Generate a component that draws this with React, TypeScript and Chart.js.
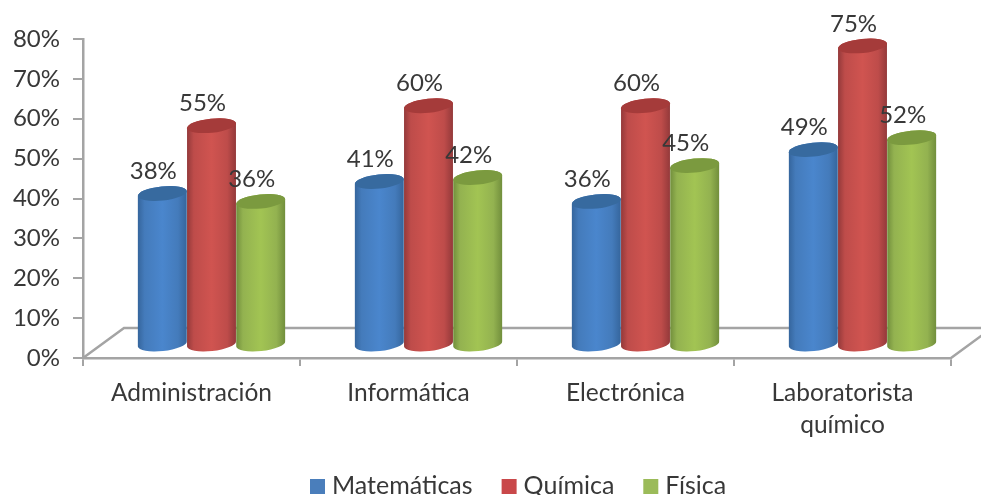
import React, { useEffect, useRef } from "react";
import { Chart, registerables } from "chart.js";

Chart.register(...registerables);

const categories = ["Administración", "Informática", "Electrónica", ["Laboratorista", "químico"]];
const matematicas = [38, 41, 36, 49];
const quimica = [55, 60, 60, 75];
const fisica = [36, 42, 45, 52];

const FONT = "Lato, 'Open Sans', sans-serif";
const TEXT = "#383838";
const AXIS = "#a4a4a4";

// edge, mid, highlight and cap tones of each cylinder
const tones = [
  { base: "#4a7ebb", edge: "#35659c", mid: "#447bbb", light: "#4a86cd", cap: "#376a9f" },
  { base: "#c9484a", edge: "#93393a", mid: "#be4c4a", light: "#d05450", cap: "#a53b3a" },
  { base: "#9bbb59", edge: "#718e3c", mid: "#93b250", light: "#a2c453", cap: "#7b9a3f" },
];

// perspective offset of the floor and of the cylinders standing on it
const DEPTH_X = 41;
const DEPTH_Y = 30;
const BAR_DX = 20;
const BAR_DY = 13;
const CAP_RY = 7;
const CAP_TILT = (-6 * Math.PI) / 180;

function drawCylinder(ctx: CanvasRenderingContext2D, el: any, tone: (typeof tones)[number]) {
  const cx = el.x + BAR_DX;
  const top = el.y - BAR_DY;
  const bottom = el.base - BAR_DY;
  const rx = el.width / 2;
  const ox = rx * Math.cos(CAP_TILT);
  const oy = rx * Math.sin(CAP_TILT);

  const fill = ctx.createLinearGradient(cx - rx, 0, cx + rx, 0);
  fill.addColorStop(0, tone.edge);
  fill.addColorStop(0.14, tone.mid);
  fill.addColorStop(0.5, tone.light);
  fill.addColorStop(0.82, tone.mid);
  fill.addColorStop(1, tone.edge);

  ctx.save();
  ctx.beginPath();
  ctx.moveTo(cx - ox, top - oy);
  ctx.lineTo(cx - ox, bottom - oy);
  ctx.ellipse(cx, bottom, rx, CAP_RY, CAP_TILT, Math.PI, 0, true);
  ctx.lineTo(cx + ox, top + oy);
  ctx.ellipse(cx, top, rx, CAP_RY, CAP_TILT, 0, Math.PI, true);
  ctx.closePath();
  ctx.fillStyle = fill;
  ctx.fill();

  ctx.beginPath();
  ctx.ellipse(cx, top, rx, CAP_RY, CAP_TILT, 0, Math.PI * 2);
  ctx.fillStyle = tone.cap;
  ctx.fill();
  ctx.restore();
}

// floor of the 3D frame, behind the cylinders
const floorPlugin = {
  id: "floor",
  beforeDatasetsDraw(chart: any) {
    const { ctx, chartArea: a } = chart;
    ctx.save();
    ctx.strokeStyle = AXIS;
    ctx.lineWidth = 2.5;
    ctx.beginPath();
    ctx.moveTo(a.left, a.bottom);
    ctx.lineTo(a.left + DEPTH_X, a.bottom - DEPTH_Y);
    ctx.lineTo(a.right + DEPTH_X, a.bottom - DEPTH_Y);
    ctx.lineTo(a.right, a.bottom);
    ctx.stroke();
    ctx.restore();
  },
};

// cylinders replace the flat bars; the geometry comes from each bar element
const cylinderPlugin = {
  id: "cylinders",
  beforeDatasetDraw(chart: any, args: any) {
    const meta = chart.getDatasetMeta(args.index);
    meta.data.forEach((el: any) => drawCylinder(chart.ctx, el, tones[args.index]));
    return false;
  },
};

const valueLabelPlugin = {
  id: "valueLabels",
  afterDatasetsDraw(chart: any) {
    const { ctx } = chart;
    ctx.save();
    ctx.font = `24px ${FONT}`;
    ctx.fillStyle = TEXT;
    ctx.textAlign = "center";
    ctx.textBaseline = "middle";
    chart.data.datasets.forEach((ds: any, i: number) => {
      chart.getDatasetMeta(i).data.forEach((el: any, j: number) => {
        ctx.fillText(`${ds.data[j]}%`, el.x + BAR_DX - 9, el.y - BAR_DY - 22);
      });
    });
    ctx.restore();
  },
};

const legendPlugin = {
  id: "keyRow",
  afterDraw(chart: any) {
    const { ctx } = chart;
    ctx.save();
    ctx.font = `25px ${FONT}`;
    ctx.textBaseline = "middle";
    let x = 310;
    const y = 486;
    chart.data.datasets.forEach((ds: any) => {
      ctx.fillStyle = ds.backgroundColor;
      ctx.fillRect(x, y - 7, 15, 15);
      ctx.fillStyle = TEXT;
      ctx.textAlign = "left";
      ctx.fillText(ds.label, x + 22, y);
      x += 22 + ctx.measureText(ds.label).width + 29;
    });
    ctx.restore();
  },
};

export default function App() {
  const ref = useRef<HTMLCanvasElement>(null);

  useEffect(() => {
    if (!ref.current) return;
    const chart = new Chart(ref.current, {
      type: "bar",
      data: {
        labels: categories as any,
        datasets: [
          { label: "Matemáticas", data: matematicas, backgroundColor: tones[0].base },
          { label: "Química", data: quimica, backgroundColor: tones[1].base },
          { label: "Física", data: fisica, backgroundColor: tones[2].base },
        ],
      },
      options: {
        animation: false,
        responsive: false,
        layout: { padding: { top: 39, right: 30, bottom: 0, left: 0 } },
        datasets: { bar: { barPercentage: 1, categoryPercentage: 0.68 } },
        plugins: { legend: { display: false }, tooltip: { enabled: false } },
        scales: {
          x: {
            afterFit: (s: any) => {
              s.height = 137;
            },
            border: { color: AXIS, width: 2.5 },
            grid: { drawOnChartArea: false, color: AXIS, lineWidth: 2, tickLength: 8, offset: true },
            ticks: {
              color: TEXT,
              font: { family: FONT, size: 24.5, lineHeight: 1.31 },
              padding: 11,
              maxRotation: 0,
              autoSkip: false,
            },
          },
          y: {
            min: 0,
            max: 80,
            afterFit: (s: any) => {
              s.width = 83;
            },
            border: { color: AXIS, width: 2.5 },
            grid: { drawOnChartArea: false, color: AXIS, lineWidth: 2, tickLength: 10 },
            ticks: {
              stepSize: 10,
              color: TEXT,
              font: { family: FONT, size: 24 },
              padding: 13,
              callback: (v: any) => `${v}%`,
            },
          },
        },
      },
      plugins: [floorPlugin, cylinderPlugin, valueLabelPlugin, legendPlugin],
    });
    return () => chart.destroy();
  }, []);

  return (
    <div style={{ position: "fixed", left: 0, top: 0, width: 981, height: 495, background: "#fff" }}>
      <canvas ref={ref} width={981} height={495} style={{ display: "block" }} />
    </div>
  );
}
